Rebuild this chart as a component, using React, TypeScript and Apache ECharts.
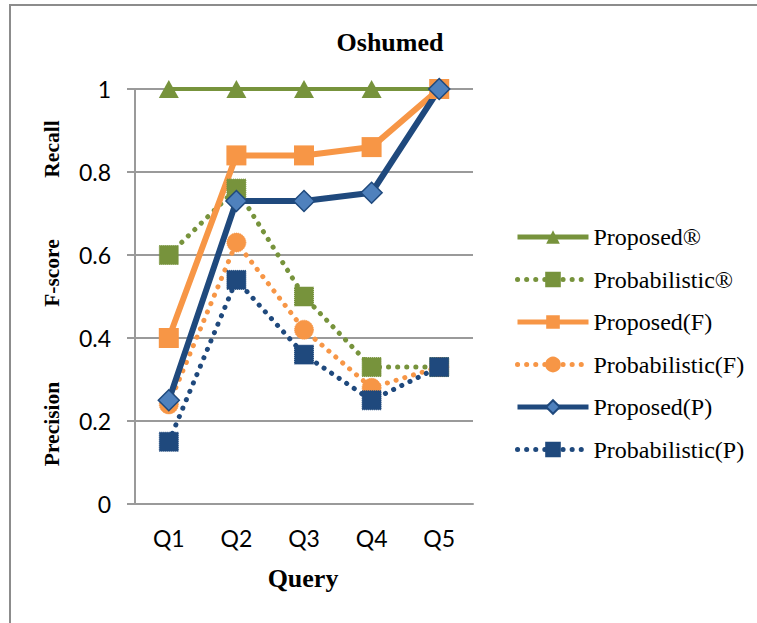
import React, { useEffect, useRef } from "react";
import * as echarts from "echarts";

const categories = ["Q1", "Q2", "Q3", "Q4", "Q5"];
const proposedR = [1, 1, 1, 1, 1];
const probabilisticR = [0.6, 0.76, 0.5, 0.33, 0.33];
const proposedF = [0.4, 0.84, 0.84, 0.86, 1];
const probabilisticF = [0.24, 0.63, 0.42, 0.28, 0.33];
const proposedP = [0.25, 0.73, 0.73, 0.75, 1];
const probabilisticP = [0.15, 0.54, 0.36, 0.25, 0.33];
const seriesNames = [
  "Proposed®",
  "Probabilistic®",
  "Proposed(F)",
  "Probabilistic(F)",
  "Proposed(P)",
  "Probabilistic(P)",
];

const GREEN = "#77933C";
const ORANGE = "#F79646";
const DBLUE = "#1F497D";
const LBLUE = "#4F81BD";
const SERIF = "'Liberation Serif', 'Times New Roman', serif";
const SANS = "Lato, 'Open Sans', sans-serif";
const DOTS = [0.1, 9];

export default function App() {
  const ref = useRef<HTMLDivElement>(null);
  useEffect(() => {
    if (!ref.current) return;
    const chart = echarts.init(ref.current, undefined, { renderer: "svg" });
    const sideLabel = (text: string, y: number) => ({
      type: "text",
      x: 52,
      y,
      rotation: Math.PI / 2,
      style: {
        text,
        fontFamily: SERIF,
        fontWeight: "bold",
        fontSize: 21.5,
        fill: "#000",
        align: "center",
        verticalAlign: "middle",
      },
    });
    const option = {
      animation: false,
      backgroundColor: "#ffffff",
      grid: { left: 135, right: 284, top: 89, bottom: 119, containLabel: false },
      legend: {
        orient: "vertical",
        left: 510,
        top: 220,
        itemWidth: 71,
        itemHeight: 17,
        itemGap: 18.5,
        data: seriesNames,
        lineStyle: { width: 5 },
        textStyle: { fontFamily: SERIF, fontSize: 24, color: "#000", lineHeight: 24 },
      },
      xAxis: {
        type: "category",
        data: categories,
        boundaryGap: true,
        axisLine: { show: true, lineStyle: { color: "#9a9a9a", width: 2 } },
        axisTick: { show: false },
        axisLabel: { fontFamily: SANS, fontSize: 23, color: "#000", margin: 22 },
      },
      yAxis: {
        type: "value",
        min: 0,
        max: 1,
        interval: 0.2,
        axisLine: { show: true, lineStyle: { color: "#9a9a9a", width: 2 } },
        axisTick: { show: true, inside: false, length: 8, lineStyle: { color: "#9a9a9a", width: 2 } },
        splitLine: { show: true, lineStyle: { color: "#9a9a9a", width: 2 } },
        axisLabel: { fontFamily: SANS, fontSize: 23, color: "#000", margin: 24 },
      },
      series: [
        {
          name: seriesNames[0],
          type: "line",
          data: proposedR,
          symbol: "triangle",
          symbolSize: [20, 18],
          itemStyle: { color: GREEN },
          lineStyle: { color: GREEN, width: 4 },
        },
        {
          name: seriesNames[1],
          type: "line",
          data: probabilisticR,
          symbol: "rect",
          symbolSize: 19,
          itemStyle: { color: GREEN, borderColor: GREEN, borderWidth: 1, borderType: "dotted" },
          lineStyle: { color: GREEN, width: 5, type: DOTS, cap: "round" },
        },
        {
          name: seriesNames[2],
          type: "line",
          data: proposedF,
          symbol: "rect",
          symbolSize: 20,
          itemStyle: { color: ORANGE },
          lineStyle: { color: ORANGE, width: 6 },
        },
        {
          name: seriesNames[3],
          type: "line",
          data: probabilisticF,
          symbol: "circle",
          symbolSize: 19,
          itemStyle: { color: ORANGE, borderColor: ORANGE, borderWidth: 1, borderType: "dotted" },
          lineStyle: { color: ORANGE, width: 5, type: DOTS, cap: "round" },
        },
        {
          name: seriesNames[4],
          type: "line",
          data: proposedP,
          symbol: "diamond",
          symbolSize: 21,
          itemStyle: { color: LBLUE, borderColor: DBLUE, borderWidth: 1.5 },
          lineStyle: { color: DBLUE, width: 6 },
        },
        {
          name: seriesNames[5],
          type: "line",
          data: probabilisticP,
          symbol: "rect",
          symbolSize: 19,
          itemStyle: { color: DBLUE, borderColor: DBLUE, borderWidth: 1, borderType: "dotted" },
          lineStyle: { color: DBLUE, width: 5, type: DOTS, cap: "round" },
        },
      ],
      graphic: [
        {
          type: "rect",
          shape: { x: 10, y: 5, width: 900, height: 800 },
          style: { fill: "none", stroke: "#8c8c8c", lineWidth: 2 },
          silent: true,
        },
        {
          type: "text",
          x: 390,
          y: 42,
          style: {
            text: "Oshumed",
            fontFamily: SERIF,
            fontWeight: "bold",
            fontSize: 26,
            fill: "#000",
            align: "center",
            verticalAlign: "middle",
          },
        },
        {
          type: "text",
          x: 303,
          y: 578,
          style: {
            text: "Query",
            fontFamily: SERIF,
            fontWeight: "bold",
            fontSize: 26,
            fill: "#000",
            align: "center",
            verticalAlign: "middle",
          },
        },
        sideLabel("Recall", 149),
        sideLabel("F-score", 273),
        sideLabel("Precision", 424),
      ],
    };
    chart.setOption(option as any);
    return () => chart.dispose();
  }, []);
  return (
    <div
      ref={ref}
      style={{ position: "fixed", left: 0, top: 0, width: 757, height: 623, background: "#fff" }}
    />
  );
}
